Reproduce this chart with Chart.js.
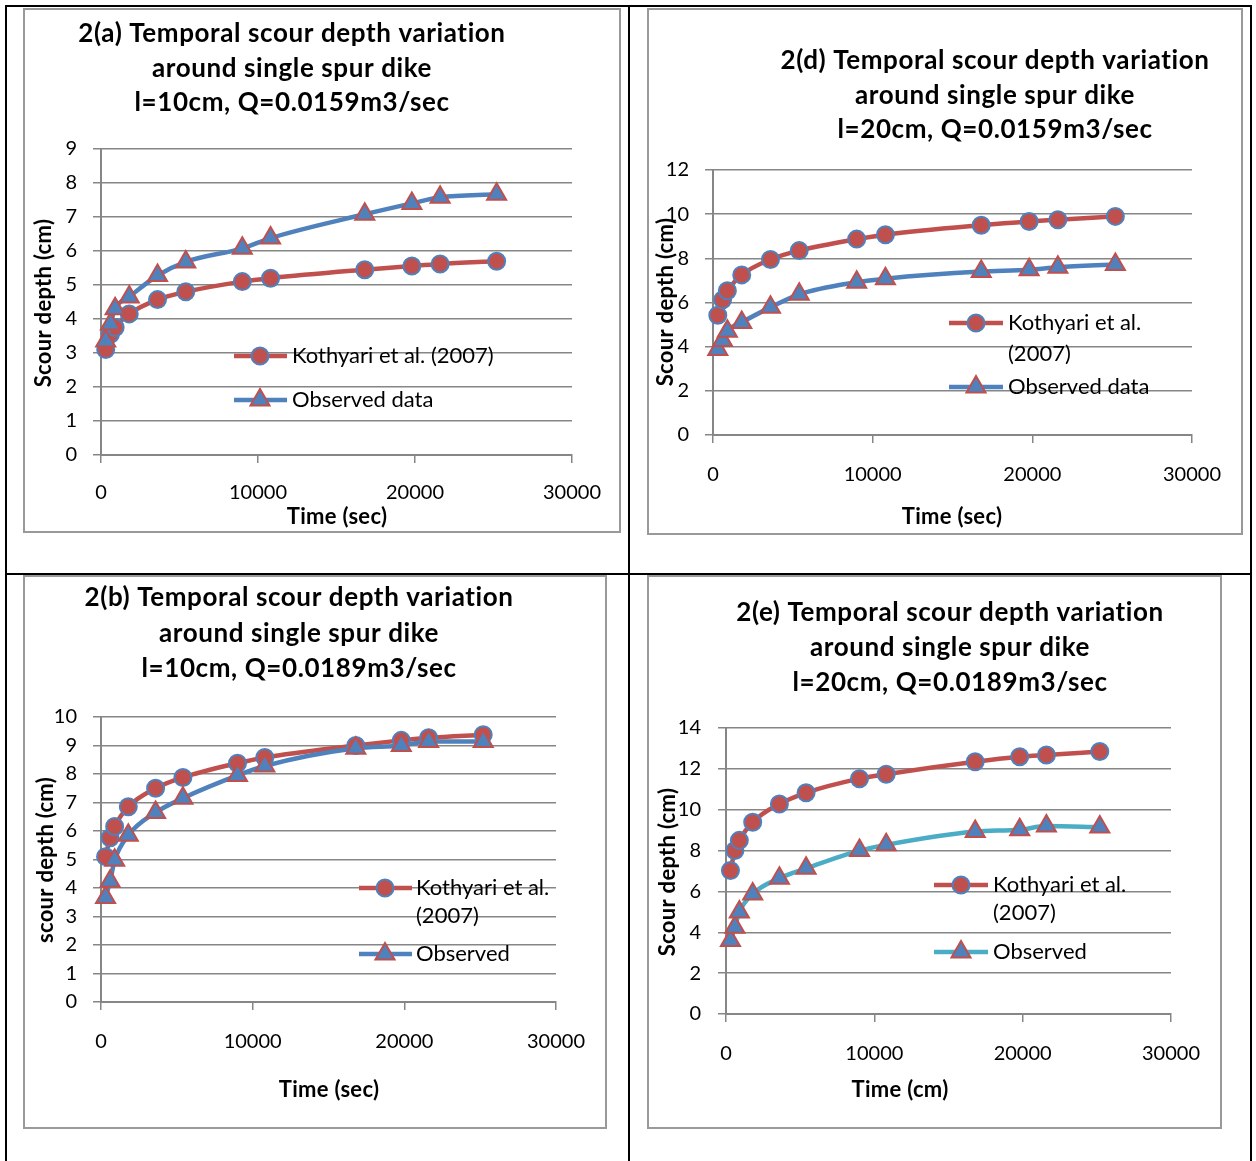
<!DOCTYPE html>
<html>
<head>
<meta charset="utf-8">
<script src="https://cdn.jsdelivr.net/npm/chart.js@4.4.0/dist/chart.umd.min.js"></script>
<style>
    html, body { margin: 0; padding: 0; background: #fff; }
    body { width: 1256px; height: 1161px; position: relative; overflow: hidden; font-family: Lato, sans-serif; }
    .rule { position: absolute; background: #000; }
    .frame { position: absolute; border: 2px solid #999; box-sizing: border-box; background: #fff; }
    .frame canvas { display: block; }
</style>
</head>
<body>
<div class="rule" style="left:5px;top:5px;width:1247px;height:2px"></div>
<div class="rule" style="left:5px;top:5px;width:2px;height:1156px"></div>
<div class="rule" style="left:628px;top:5px;width:2px;height:1156px"></div>
<div class="rule" style="left:1250px;top:5px;width:2px;height:1156px"></div>
<div class="rule" style="left:5px;top:573px;width:1247px;height:2px"></div>

<div class="frame" style="left:23px;top:8px;width:598px;height:525px"><canvas id="chart-a" width="594" height="521"></canvas></div>
<div class="frame" style="left:647px;top:8px;width:596px;height:527px"><canvas id="chart-d" width="592" height="523"></canvas></div>
<div class="frame" style="left:23px;top:575px;width:584px;height:554px"><canvas id="chart-b" width="580" height="550"></canvas></div>
<div class="frame" style="left:647px;top:575px;width:575px;height:554px"><canvas id="chart-e" width="571" height="550"></canvas></div>

<script>
// sampling times (sec), same for every run
const timeSec = [300, 600, 900, 1800, 3600, 5400, 9000, 10800, 16800, 19800, 21600, 25200];

// 2(a) l=10cm, Q=0.0159
const kothyariA = [3.1, 3.55, 3.75, 4.15, 4.57, 4.8, 5.1, 5.2, 5.45, 5.56, 5.62, 5.7];
const observedA = [3.35, 3.85, 4.3, 4.65, 5.28, 5.68, 6.08, 6.38, 7.08, 7.4, 7.58, 7.67];

// 2(d) l=20cm, Q=0.0159
const kothyariD = [5.42, 6.12, 6.53, 7.25, 7.95, 8.35, 8.87, 9.07, 9.5, 9.67, 9.75, 9.9];
const observedD = [3.87, 4.28, 4.7, 5.1, 5.78, 6.37, 6.92, 7.08, 7.4, 7.48, 7.6, 7.72];

// 2(b) l=10cm, Q=0.0189
const kothyariB = [5.1, 5.76, 6.16, 6.85, 7.5, 7.88, 8.38, 8.58, 9.0, 9.18, 9.27, 9.38];
const observedB = [3.67, 4.24, 4.97, 5.85, 6.65, 7.15, 7.95, 8.28, 8.9, 9.0, 9.14, 9.14];

// 2(e) l=20cm, Q=0.0189
const kothyariE = [7.02, 8.0, 8.5, 9.39, 10.28, 10.83, 11.52, 11.74, 12.35, 12.59, 12.68, 12.85];
const observedE = [3.6, 4.25, 4.99, 5.88, 6.65, 7.13, 8.0, 8.28, 8.93, 9.02, 9.2, 9.15];

const RED = '#C0504D';
const BLUE = '#4F81BD';
const CYAN = '#4BACC6';
const GRID = '#868686';
const FONT = 'Lato, "Open Sans", sans-serif';

const Y_AXIS_W = 60;
const X_AXIS_H = 70;

// page coordinates for each panel (converted to canvas coords below)
const panels = [
    {
        id: 'chart-a', origin: [25, 10],
        plot: { left: 101, top: 149, right: 572, bottom: 455 },
        yMax: 9, yStep: 1, yPad: 16, xPad: 18,
        kothyari: kothyariA, observed: observedA, observedLine: BLUE,
        title: ['2(a) Temporal scour depth variation', 'around single spur dike', 'l=10cm, Q=0.0159m3/sec'],
        titleX: 292, titleY: [34, 69, 103],
        yTitle: 'Scour depth (cm)', yTitleAt: [44, 303],
        xTitle: 'Time (sec)', xTitleAt: [337, 517],
        legend: {
            x0: 234, x1: 287, mark: 260, text: 292, gap: 0,
            rows: [
                { series: 'k', y: 356, lines: ['Kothyari et al. (2007)'] },
                { series: 'o', y: 400, lines: ['Observed data'] }
            ]
        }
    },
    {
        id: 'chart-d', origin: [649, 10],
        plot: { left: 713, top: 170, right: 1192, bottom: 435 },
        yMax: 12, yStep: 2, yPad: 16, xPad: 20,
        kothyari: kothyariD, observed: observedD, observedLine: BLUE,
        title: ['2(d) Temporal scour depth variation', 'around single spur dike', 'l=20cm, Q=0.0159m3/sec'],
        titleX: 995, titleY: [61, 96, 130],
        yTitle: 'Scour depth (cm)', yTitleAt: [666, 302],
        xTitle: 'Time (sec)', xTitleAt: [952, 517],
        legend: {
            x0: 949, x1: 1003, mark: 976, text: 1008, gap: 31,
            rows: [
                { series: 'k', y: 323, lines: ['Kothyari et al.', '(2007)'] },
                { series: 'o', y: 387, lines: ['Observed data'] }
            ]
        }
    },
    {
        id: 'chart-b', origin: [25, 577],
        plot: { left: 101, top: 717, right: 557, bottom: 1002 },
        yMax: 10, yStep: 1, yPad: 16, xPad: 20,
        kothyari: kothyariB, observed: observedB, observedLine: BLUE,
        title: ['2(b) Temporal scour depth variation', 'around single spur dike', 'l=10cm, Q=0.0189m3/sec'],
        titleX: 299, titleY: [598, 634, 669],
        yTitle: 'scour depth (cm)', yTitleAt: [46, 860],
        xTitle: 'Time (sec)', xTitleAt: [329, 1090],
        legend: {
            x0: 359, x1: 412, mark: 385, text: 416, gap: 28,
            rows: [
                { series: 'k', y: 888, lines: ['Kothyari et al.', '(2007)'] },
                { series: 'o', y: 954, lines: ['Observed'] }
            ]
        }
    },
    {
        id: 'chart-e', origin: [649, 577],
        plot: { left: 726, top: 728, right: 1174, bottom: 1014 },
        yMax: 14, yStep: 2, yPad: 17, xPad: 20,
        kothyari: kothyariE, observed: observedE, observedLine: CYAN,
        title: ['2(e) Temporal scour depth variation', 'around single spur dike', 'l=20cm, Q=0.0189m3/sec'],
        titleX: 950, titleY: [613, 648, 683],
        yTitle: 'Scour depth (cm)', yTitleAt: [668, 872],
        xTitle: 'Time (cm)', xTitleAt: [900, 1090],
        legend: {
            x0: 934, x1: 988, mark: 961, text: 993, gap: 28,
            rows: [
                { series: 'k', y: 885, lines: ['Kothyari et al.', '(2007)'] },
                { series: 'o', y: 952, lines: ['Observed'] }
            ]
        }
    }
];

const toPoints = (xs, ys) => xs.map((x, i) => ({ x, y: ys[i] }));

function drawMarker(ctx, style, x, y) {
    ctx.save();
    ctx.lineWidth = 2;
    ctx.beginPath();
    if (style.shape === 'circle') {
        ctx.arc(x, y, style.radius, 0, Math.PI * 2);
    } else {
        let rad = 0;
        ctx.moveTo(x + Math.sin(rad) * style.radius, y - Math.cos(rad) * style.radius);
        rad += Math.PI * 2 / 3;
        ctx.lineTo(x + Math.sin(rad) * style.radius, y - Math.cos(rad) * style.radius);
        rad += Math.PI * 2 / 3;
        ctx.lineTo(x + Math.sin(rad) * style.radius, y - Math.cos(rad) * style.radius);
        ctx.closePath();
    }
    ctx.fillStyle = style.fill;
    ctx.strokeStyle = style.stroke;
    ctx.fill();
    ctx.stroke();
    ctx.restore();
}

// titles, axis titles and the in-plot legend, placed like the Excel originals
const panelText = {
    id: 'panelText',
    afterDraw(chart, args, opts) {
        const p = opts.panel;
        const [ox, oy] = p.origin;
        const ctx = chart.ctx;
        ctx.save();
        ctx.fillStyle = '#000';
        ctx.textAlign = 'center';
        ctx.textBaseline = 'middle';

        ctx.font = `bold 26px ${FONT}`;
        ctx.letterSpacing = '0.6px';
        p.title.forEach((line, i) => ctx.fillText(line, p.titleX - ox, p.titleY[i] - oy));

        ctx.font = `bold 22px ${FONT}`;
        ctx.letterSpacing = '0.3px';
        ctx.fillText(p.xTitle, p.xTitleAt[0] - ox, p.xTitleAt[1] - oy);
        ctx.save();
        ctx.translate(p.yTitleAt[0] - ox, p.yTitleAt[1] - oy);
        ctx.rotate(-Math.PI / 2);
        ctx.fillText(p.yTitle, 0, 0);
        ctx.restore();

        const lg = p.legend;
        ctx.font = `22px ${FONT}`;
        ctx.letterSpacing = '0px';
        ctx.textAlign = 'left';
        lg.rows.forEach(row => {
            const ds = row.series === 'k' ? opts.styles.k : opts.styles.o;
            const y = row.y - oy;
            ctx.save();
            ctx.strokeStyle = ds.line;
            ctx.lineWidth = 4.5;
            ctx.beginPath();
            ctx.moveTo(lg.x0 - ox, y);
            ctx.lineTo(lg.x1 - ox, y);
            ctx.stroke();
            ctx.restore();
            drawMarker(ctx, ds, lg.mark - ox, y);
            ctx.fillStyle = '#000';
            row.lines.forEach((t, i) => ctx.fillText(t, lg.text - ox, y + i * lg.gap));
        });
        ctx.restore();
    }
};

function buildChart(p) {
    const [ox, oy] = p.origin;
    const canvas = document.getElementById(p.id);
    const W = canvas.width;
    const H = canvas.height;

    const styles = {
        k: { shape: 'circle', radius: 8.5, fill: RED, stroke: BLUE, line: RED },
        o: { shape: 'triangle', radius: 11, fill: BLUE, stroke: RED, line: p.observedLine }
    };

    const tickFont = { family: FONT, size: 20 };

    return new Chart(canvas, {
        type: 'line',
        data: {
            datasets: [
                {
                    label: 'Observed',
                    data: toPoints(timeSec, p.observed),
                    borderColor: p.observedLine,
                    borderWidth: 4.5,
                    pointStyle: 'triangle',
                    pointRadius: styles.o.radius,
                    pointBackgroundColor: BLUE,
                    pointBorderColor: RED,
                    pointBorderWidth: 2,
                    cubicInterpolationMode: 'monotone',
                    clip: false,
                    order: 0
                },
                {
                    label: 'Kothyari et al. (2007)',
                    data: toPoints(timeSec, p.kothyari),
                    borderColor: RED,
                    borderWidth: 4.5,
                    pointStyle: 'circle',
                    pointRadius: styles.k.radius,
                    pointBackgroundColor: RED,
                    pointBorderColor: BLUE,
                    pointBorderWidth: 2,
                    cubicInterpolationMode: 'monotone',
                    clip: false,
                    order: 1
                }
            ]
        },
        options: {
            responsive: false,
            animation: false,
            layout: {
                padding: {
                    left: p.plot.left - ox - Y_AXIS_W,
                    top: p.plot.top - oy,
                    right: W - (p.plot.right - ox),
                    bottom: H - (p.plot.bottom - oy) - X_AXIS_H
                }
            },
            plugins: {
                legend: { display: false },
                tooltip: { enabled: false },
                title: { display: false },
                panelText: { panel: p, styles }
            },
            scales: {
                x: {
                    type: 'linear',
                    min: 0,
                    max: 30000,
                    ticks: {
                        stepSize: 10000,
                        padding: p.xPad,
                        color: '#000',
                        font: tickFont,
                        maxRotation: 0,
                        callback: v => String(v)
                    },
                    grid: { drawOnChartArea: false, color: GRID, lineWidth: 1.5, tickLength: 8 },
                    border: { color: GRID, width: 2 },
                    afterFit: s => { s.height = X_AXIS_H; }
                },
                y: {
                    min: 0,
                    max: p.yMax,
                    ticks: {
                        stepSize: p.yStep,
                        padding: p.yPad,
                        color: '#000',
                        font: tickFont
                    },
                    grid: { color: GRID, lineWidth: 1.5, tickLength: 8 },
                    border: { color: GRID, width: 2 },
                    afterFit: s => { s.width = Y_AXIS_W; }
                }
            }
        },
        plugins: [panelText]
    });
}

const fontsReady = document.fonts
    ? Promise.all([
        document.fonts.load('bold 26px Lato'),
        document.fonts.load('20px Lato')
    ]).catch(() => null)
    : Promise.resolve();

fontsReady.then(() => panels.forEach(buildChart));
</script>
</body>
</html>
